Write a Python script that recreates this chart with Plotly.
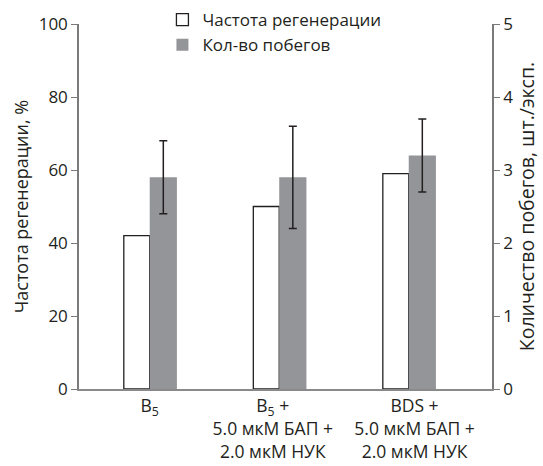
import plotly.graph_objects as go

categories = [0, 1, 2]
tick_labels = ["B<sub>5</sub>",
               "B<sub>5</sub> +<br>5.0 мкМ БАП +<br>2.0 мкМ НУК",
               "BDS +<br>5.0 мкМ БАП +<br>2.0 мкМ НУК"]
regen_freq = [42, 50, 59]          # %
shoots = [2.9, 2.9, 3.2]           # шт./эксп.
shoots_err = [0.5, 0.7, 0.5]

FONT = "Open Sans"
AX = "#7a7a7a"
TXT = "#231f20"
FS = 17

# small horizontal nudges of the tick labels, as in the reference layout
label_nudge = [0.0, -0.05, 0.045]
tick_pos = [c + d for c, d in zip(categories, label_nudge)]

fig = go.Figure()
fig.add_trace(go.Bar(
    x=categories, y=regen_freq, name="Частота регенерации",
    yaxis="y", offset=-0.2, width=0.2,
    marker=dict(color="white", line=dict(color="#231f20", width=1.3)),
))
fig.add_trace(go.Bar(
    x=categories, y=shoots, name="Кол-во побегов",
    yaxis="y2", offset=0.0, width=0.21,
    marker=dict(color="#949598", line=dict(width=0)),
    error_y=dict(type="data", array=shoots_err, visible=True,
                 color="#231f20", thickness=1.5, width=4),
))

fig.update_layout(
    width=543, height=466,
    margin=dict(l=79, r=51, t=24, b=77, autoexpand=False),
    paper_bgcolor="white", plot_bgcolor="white",
    font=dict(family=FONT, size=FS, color=TXT),
    showlegend=True,
    legend=dict(x=0.202, y=1.06, xanchor="left", yanchor="top",
                bgcolor="rgba(0,0,0,0)", font=dict(size=FS),
                itemwidth=30, tracegroupgap=0),
    xaxis=dict(range=[-0.546, 2.643], tickvals=tick_pos, ticktext=tick_labels,
               showline=True, linecolor="#8a8a8a", linewidth=2, ticks="",
               showgrid=False, zeroline=False, tickfont=dict(size=17.5),
               automargin=False),
    yaxis=dict(range=[0, 100], dtick=20, showline=True, linecolor=AX, linewidth=1.5,
               ticks="outside", ticklen=6, tickcolor=AX, tickwidth=1,
               showgrid=False, zeroline=False, automargin=False,
               title=dict(text="Частота регенерации, %", font=dict(size=18), standoff=5)),
    yaxis2=dict(range=[0, 5], dtick=1, overlaying="y", side="right",
                showline=True, linecolor=AX, linewidth=1.5,
                ticks="outside", ticklen=6, tickcolor=AX, tickwidth=1,
                showgrid=False, zeroline=False, automargin=False,
                title=dict(text="Количество побегов, шт./эксп.", font=dict(size=19.5), standoff=8)),
)

fig.write_html("out.html", config={"displayModeBar": False},
               post_script="document.body.style.margin='0';")
